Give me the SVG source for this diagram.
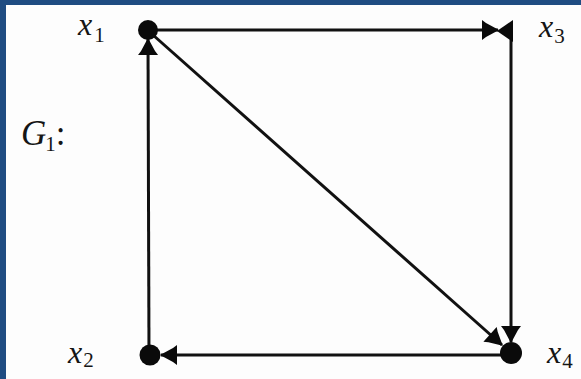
<svg xmlns="http://www.w3.org/2000/svg" width="581" height="379" viewBox="0 0 581 379">
  <style>
    .lbl { font-family: "Liberation Serif", "Times New Roman", serif; font-style: italic; font-size: 32px; fill: #151515; }
    .sub { font-style: normal; font-size: 21px; }
    .edge { stroke: #111; stroke-width: 3; fill: none; }
    .dot { fill: #0a0a0a; }
  </style>
  <defs>
    <marker id="arr" viewBox="-17 -11 18 22" refX="0" refY="0" markerWidth="18" markerHeight="22" markerUnits="userSpaceOnUse" orient="auto">
      <path d="M1,0 L-12,-7 L-16,-10 L-16,10 L-12,7 Z" fill="#0a0a0a"/>
    </marker>
  </defs>
  <rect x="0" y="0" width="581" height="379" fill="#fdfdfd"/>
  <rect x="0" y="0" width="581" height="5" fill="#1F4C82"/>
  <rect x="0" y="0" width="6" height="379" fill="#1F4C82"/>

  <g id="connectors">
    <line class="edge" x1="148" y1="30" x2="498" y2="30" marker-end="url(#arr)"/>
    <line class="edge" x1="511" y1="32" x2="511" y2="342" marker-end="url(#arr)"/>
    <line class="edge" x1="153" y1="35" x2="502" y2="345" marker-end="url(#arr)"/>
    <line class="edge" x1="511" y1="355" x2="161" y2="355" marker-end="url(#arr)"/>
    <line class="edge" x1="149" y1="355" x2="148" y2="39" marker-end="url(#arr)"/>
  </g>

  <g id="x1">
    <circle class="dot" cx="148" cy="30" r="10"/>
    <text class="lbl" x="78" y="35">x<tspan class="sub" dx="2" dy="7">1</tspan></text>
  </g>
  <g id="x3">
    <polygon class="dot" points="497,31 513,20 513,42"/>
    <text class="lbl" x="539" y="37">x<tspan class="sub" dx="1" dy="6">3</tspan></text>
  </g>
  <g id="x2">
    <circle class="dot" cx="150" cy="355" r="10.5"/>
    <text class="lbl" x="68" y="363">x<tspan class="sub" dx="1" dy="4">2</tspan></text>
  </g>
  <g id="x4">
    <circle class="dot" cx="511" cy="353" r="11"/>
    <text class="lbl" x="547" y="363">x<tspan class="sub" dx="1" dy="5">4</tspan></text>
  </g>
  <g id="G1">
    <text class="lbl" x="21" y="145" style="font-size:35px">G<tspan class="sub" dx="-1" dy="6">1</tspan><tspan style="font-style:normal" dy="-6">:</tspan></text>
  </g>
</svg>
